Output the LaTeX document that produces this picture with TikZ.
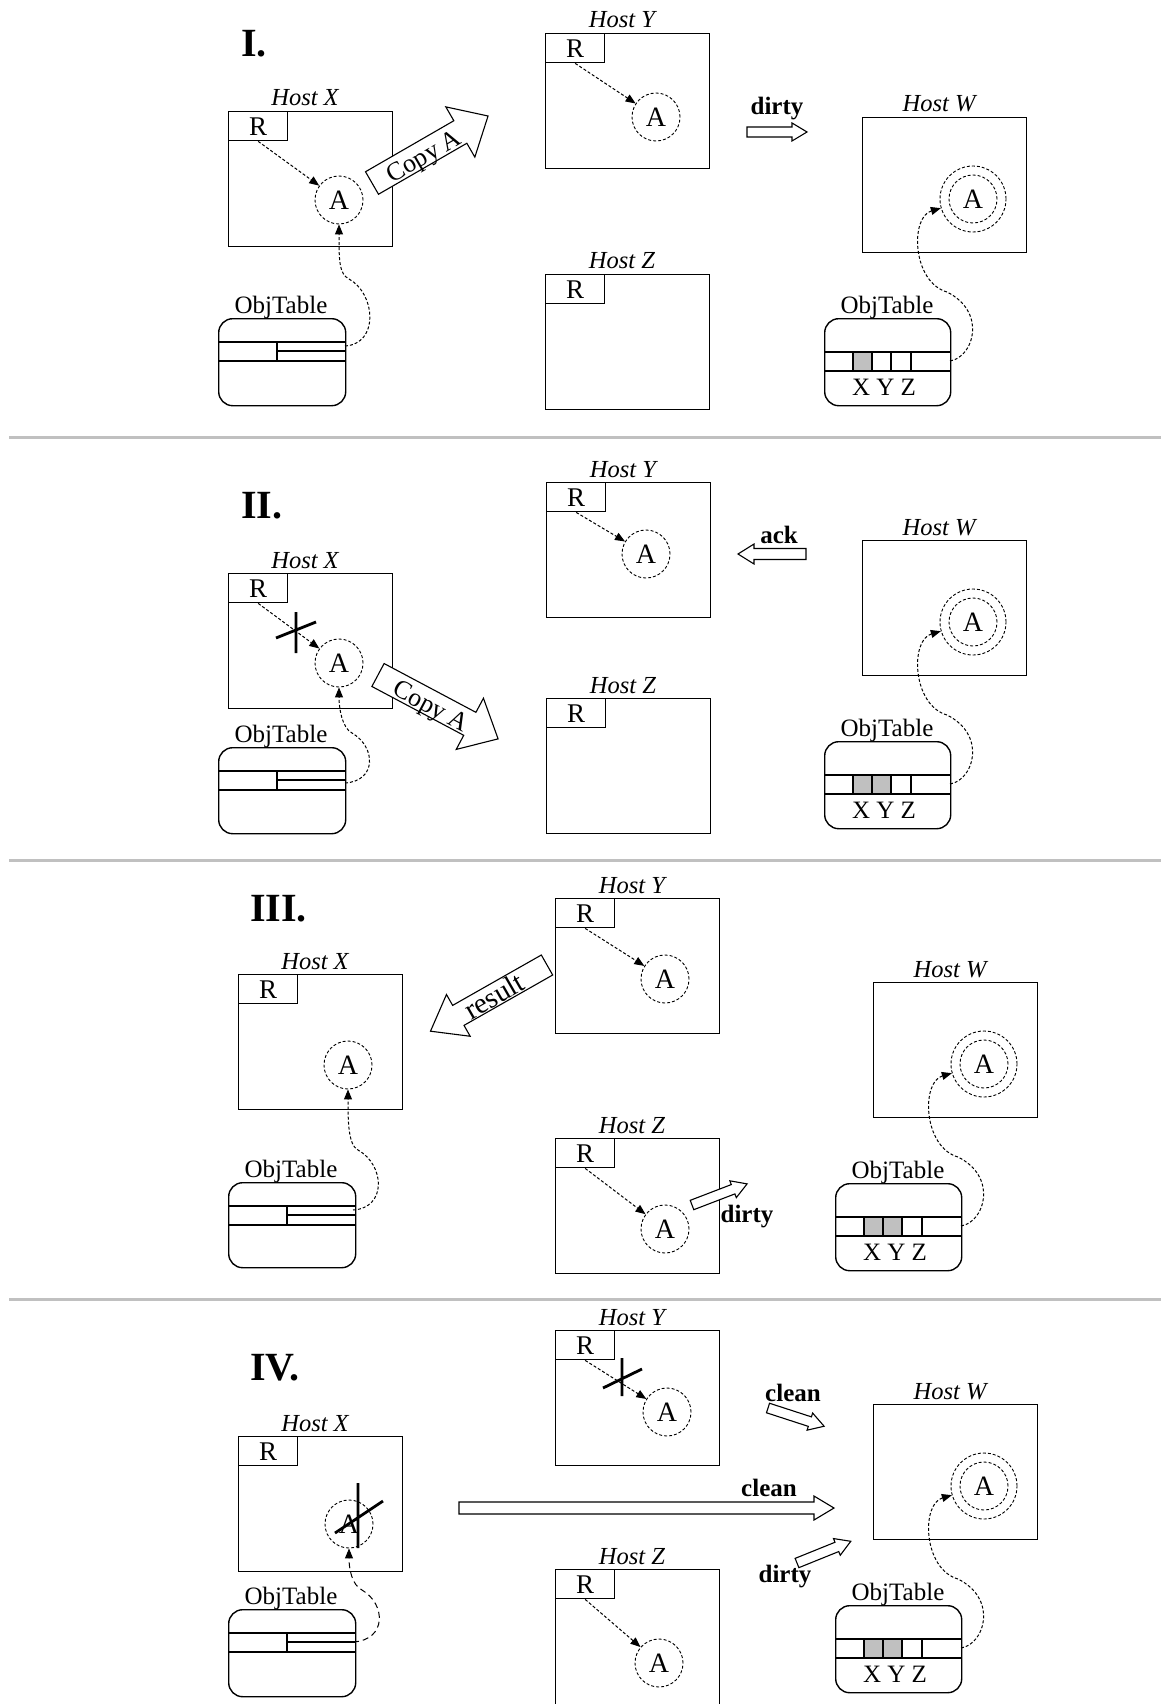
\documentclass[tikz,border=0pt]{standalone}
\usepackage{fontspec}
\setmainfont{Liberation Serif}
\usetikzlibrary{arrows.meta}
\definecolor{sepgrey}{RGB}{192,192,192}
\definecolor{cellgrey}{RGB}{192,192,192}
\tikzset{
 frame/.style={draw, line width=1.4pt, minimum width=164pt, minimum height=135pt, inner sep=0pt, anchor=north west},
 rbox/.style={draw, line width=1.4pt, minimum width=59pt, minimum height=29pt, inner sep=0pt, anchor=north west, font=\fontsize{27}{27}\selectfont},
 hostlabel/.style={anchor=base, inner sep=0pt, font=\fontsize{24.5}{24.5}\selectfont\itshape},
 acirc/.style={circle, draw, dash pattern=on 3pt off 2pt, line width=0.9pt, minimum size=48pt, inner sep=0pt, font=\fontsize{28}{28}\selectfont},
 ocirc/.style={circle, draw, dash pattern=on 3pt off 2pt, line width=0.9pt, minimum size=66pt, inner sep=0pt},
 refarr/.style={dash pattern=on 3pt off 2pt, line width=1pt, -{Triangle[length=10pt,width=8pt]}},
 coarse/.style={dash pattern=on 6pt off 4pt, line width=1pt, -{Triangle[length=10pt,width=8pt]}},
 tbl/.style={draw, line width=1.4pt, rounded corners=14pt, minimum width=127pt, minimum height=87pt, inner sep=0pt, anchor=north west},
 tline/.style={line width=1.4pt},
 tlabel/.style={anchor=base, inner sep=0pt, font=\fontsize{25}{25}\selectfont},
 msg/.style={anchor=base, inner sep=0pt, font=\fontsize{25}{25}\selectfont\bfseries},
 arrtext/.style={inner sep=0pt, font=\fontsize{26}{26}\selectfont},
 blk/.style={draw, line width=1.1pt, fill=white},
 crossline/.style={line width=2.8pt},
 sepline/.style={draw=sepgrey, line width=3pt},
 ptitle/.style={anchor=base west, inner sep=0pt, font=\fontsize{40}{40}\selectfont\bfseries},
}
% host frame with label: name, x, y, letter
\newcommand\hostframe[4]{%
 \node[frame] (#1) at ({#2},{#3}) {};
 \node[hostlabel] (#1L) at ({#2+77},{#3-5}) {Host #4};}
% host frame with R box
\newcommand\host[4]{%
 \hostframe{#1}{#2}{#3}{#4}
 \node[rbox] (#1R) at ({#2},{#3}) {R};}
% ObjTable of a host holding A: name, x, y, height
\newcommand\tablex[4]{%
 \node[tbl, minimum height=#4pt] (#1) at ({#2},{#3}) {};
 \draw[tline] ({#2},{#3+24}) -- ({#2+127},{#3+24}) ({#2},{#3+43}) -- ({#2+127},{#3+43})
   ({#2+59},{#3+24}) -- ({#2+59},{#3+43}) ({#2+59},{#3+33}) -- ({#2+127},{#3+33});
 \node[tlabel] (#1L) at ({#2+63},{#3-5}) {ObjTable};}
% ObjTable of the owner: name, x, y, shaded cells
\newcommand\tablew[4]{%
 \ifnum#4>0 \fill[cellgrey] ({#2+29},{#3+34}) rectangle ({#2+48},{#3+53});\fi
 \ifnum#4>1 \fill[cellgrey] ({#2+48},{#3+34}) rectangle ({#2+67},{#3+53});\fi
 \node[tbl, minimum width=126pt] (#1) at ({#2},{#3}) {};
 \draw[tline] ({#2},{#3+34}) -- ({#2+126},{#3+34}) ({#2},{#3+53}) -- ({#2+126},{#3+53})
   ({#2+29},{#3+34}) -- ({#2+29},{#3+53}) ({#2+48},{#3+34}) -- ({#2+48},{#3+53})
   ({#2+67},{#3+34}) -- ({#2+67},{#3+53}) ({#2+87},{#3+34}) -- ({#2+87},{#3+53});
 \node[tlabel] (#1X) at ({#2+60},{#3+77}) {X Y Z};
 \node[tlabel] (#1L) at ({#2+63},{#3-5}) {ObjTable};}
% owner host W: name, x, y, shaded
\newcommand\hostw[4]{%
 \hostframe{#1}{#2}{#3}{W}
 \node[ocirc] (#1O) at ({#2+111},{#3+82}) {};
 \node[acirc] (#1A) at ({#2+111},{#3+82}) {A};
 \tablew{#1T}{#2-38}{#3+201}{#4}
 \coordinate (#1Ts) at ({#2+88},{#3+244});
 \draw[refarr] (#1Ts) .. controls ({#2+112},{#3+240}) and ({#2+125},{#3+195}) .. ({#2+85},{#3+175})
   .. controls ({#2+50},{#3+165}) and ({#2+48},{#3+100}) .. (#1O);}
% block arrow: x, y (tail centre), angle, length, shaft half width, head half width, head length
\newcommand\barrow[7]{%
 \begin{scope}[shift={({#1},{#2})}, rotate=#3]
 \draw[blk] (0,-#5) -- ({#4-#7},-#5) -- ({#4-#7},-#6) -- (#4,0) -- ({#4-#7},#6) -- ({#4-#7},#5) -- (0,#5) -- cycle;
 \end{scope}}
\begin{document}
\begin{tikzpicture}[x=1pt,y=-1pt]
\useasboundingbox (0,0) rectangle (1161,1704);
% ---------------- Panel I
\node[ptitle] (t1) at (241,57) {I.};
\host{X1}{228}{111}{X}
\node[acirc] (X1A) at (339,200) {A};
\draw[refarr] (X1R.south) -- (X1A);
\tablex{X1T}{218}{318}{87}
\coordinate (X1Ts) at (345,346);
\draw[refarr] (X1Ts) .. controls +(34,-2) and +(27,15) .. (349,279) .. controls +(-10,-5) and +(0,60) .. (X1A);
\barrow{372}{183}{30}{134}{13}{29}{32}
\node[arrtext, rotate=30] (c1) at (425,158) {Copy A};
\host{Y1}{545}{33}{Y}
\node[acirc] (Y1A) at (656,117) {A};
\draw[refarr] (Y1R.south) -- (Y1A);
\host{Z1}{545}{274}{Z}
\node[msg] (d1) at (777,115) {dirty};
\barrow{747}{132}{0}{60}{5}{9}{15}
\hostw{W1}{862}{117}{1}
\draw[sepline] (9,437) -- (1161,437);
% ---------------- Panel II
\node[ptitle] (t2) at (241,518) {II.};
\host{X2}{228}{573}{X}
\node[acirc] (X2A) at (339,663) {A};
\draw[refarr] (X2R.south) -- (X2A);
\draw[crossline] (296,612) -- (296,653) (276,638) -- (316,622);
\tablex{X2T}{218}{747}{86}
\coordinate (X2Ts) at (345,783);
\draw[refarr] (X2Ts) .. controls +(32,-2) and +(24,14) .. (352,733) .. controls +(-10,-5) and +(0,45) .. (X2A);
\barrow{378}{675}{-28}{136}{13}{29}{32}
\node[arrtext, rotate=-28] (c2) at (430,708) {Copy A};
\host{Y2}{546}{482}{Y}
\node[acirc] (Y2A) at (646,554) {A};
\draw[refarr] (Y2R.south) -- (Y2A);
\host{Z2}{546}{698}{Z}
\node[msg] (a2) at (779,543) {ack};
\barrow{806}{554}{180}{68}{5.5}{10}{16}
\hostw{W2}{862}{540}{2}
\draw[sepline] (9,860) -- (1161,860);
% ---------------- Panel III
\node[ptitle] (t3) at (250,921) {III.};
\host{X3}{238}{974}{X}
\node[acirc] (X3A) at (348,1065) {A};
\tablex{X3T}{228}{1182}{85}
\coordinate (X3Ts) at (353,1210);
\draw[refarr] (X3Ts) .. controls +(34,-2) and +(27,15) .. (358,1150) .. controls +(-10,-5) and +(0,55) .. (X3A);
\barrow{547}{965}{209.6}{134}{11.5}{24}{32}
\node[arrtext, rotate=30, font=\fontsize{29}{29}\selectfont] (r3) at (494,996) {result};
\host{Y3}{555}{898}{Y}
\node[acirc] (Y3A) at (665,979) {A};
\draw[refarr] (Y3R.south) -- (Y3A);
\host{Z3}{555}{1138}{Z}
\node[acirc] (Z3A) at (665,1229) {A};
\draw[refarr] (Z3R.south) -- (Z3A);
\barrow{692}{1205}{21}{59}{5}{9}{15}
\node[msg] (d3) at (747,1222) {dirty};
\hostw{W3}{873}{982}{2}
\draw[sepline] (9,1299) -- (1161,1299);
% ---------------- Panel IV
\node[ptitle] (t4) at (250,1380) {IV.};
\host{X4}{238}{1436}{X}
\node[acirc] (X4A) at (349,1524) {A};
\draw[crossline] (358,1483) -- (358,1548) (335,1533) -- (383,1501);
\tablex{X4T}{228}{1609}{87}
\coordinate (X4Ts) at (353,1642);
\draw[coarse] (X4Ts) .. controls +(34,-2) and +(24,14) .. (362,1590) .. controls +(-10,-5) and +(0,45) .. (X4A);
\host{Y4}{555}{1330}{Y}
\node[acirc] (Y4A) at (667,1412) {A};
\draw[refarr] (Y4R.south) -- (Y4A);
\draw[crossline] (622,1358) -- (622,1396) (603,1388) -- (642,1369);
\node[msg] (k4) at (793,1401) {clean};
\barrow{768}{1408}{-18}{59}{5}{9}{15}
\barrow{459}{1508}{0}{375}{6}{12}{20}
\node[msg] (k5) at (769,1496) {clean};
\host{Z4}{555}{1569}{Z}
\node[acirc] (Z4A) at (659,1663) {A};
\draw[refarr] (Z4R.south) -- (Z4A);
\barrow{797}{1563}{22}{58}{5}{9}{15}
\node[msg] (d4) at (785,1582) {dirty};
\hostw{W4}{873}{1404}{2}
\end{tikzpicture}
\end{document}
